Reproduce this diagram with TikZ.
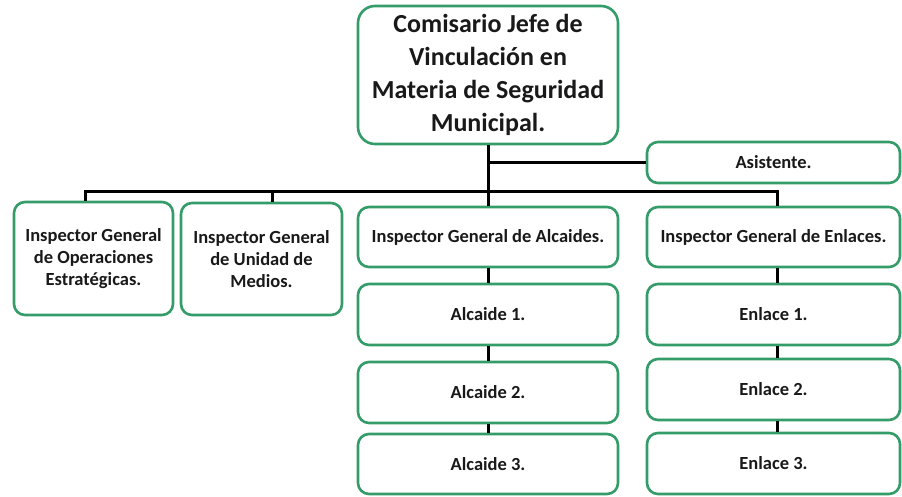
\documentclass[tikz,border=0pt]{standalone}
\usepackage{fontspec}
\setmainfont{Carlito}
\usepackage{tikz}
\usetikzlibrary{calc}
\definecolor{marco}{RGB}{52,156,104}
\tikzset{
  caja/.style={draw=marco, line width=2.6pt, rounded corners=11pt, fill=white,
    align=center, inner sep=2pt, text=black!90,
    font=\bfseries\fontsize{18.5}{22}\selectfont},
  cajajefe/.style={caja, rounded corners=17pt, font=\bfseries\fontsize{26}{33}\selectfont},
  linea/.style={draw=black, line width=3pt}
}

\begin{document}
\begin{tikzpicture}[x=1pt, y=-1pt]
		%%%%% START %%%%%
		\useasboundingbox (0,0) rectangle (902,496);
		
		\node[cajajefe, minimum width=260pt, minimum height=138pt] (jefe) at (488,75)
			{Comisario Jefe de\\Vinculación en\\Materia de Seguridad\\Municipal.};
		\node[caja, minimum width=253pt, minimum height=41pt] (asis) at (773.5,162.5) {Asistente.};
		
		\node[caja, minimum width=159pt, minimum height=113pt] (opest) at (93.5,258.5)
			{Inspector General\\de Operaciones\\Estratégicas.};
		\node[caja, minimum width=161pt, minimum height=112pt] (medios) at (261.5,259)
			{Inspector General\\de Unidad de\\Medios.};
		\node[caja, minimum width=260pt, minimum height=60pt] (alcs) at (488,237) {Inspector General de Alcaides.};
		\node[caja, minimum width=253pt, minimum height=60pt] (enls) at (773.5,237) {Inspector General de Enlaces.};
		
		\node[caja, minimum width=260pt, minimum height=61pt] (alc1) at (488,314.5) {Alcaide 1.};
		\node[caja, minimum width=260pt, minimum height=61pt] (alc2) at (488,392.5) {Alcaide 2.};
		\node[caja, minimum width=260pt, minimum height=60pt] (alc3) at (488,464) {Alcaide 3.};
		
		\node[caja, minimum width=253pt, minimum height=61pt] (enl1) at (773.5,314.5) {Enlace 1.};
		\node[caja, minimum width=253pt, minimum height=61pt] (enl2) at (773.5,389.5) {Enlace 2.};
		\node[caja, minimum width=253pt, minimum height=61pt] (enl3) at (773.5,463.5) {Enlace 3.};
		
		% barra horizontal
		\coordinate (busL) at (85,191);
		\coordinate (busM) at (272,191);
		\coordinate (busR) at (777,191);
		
		\draw[linea] (jefe.south) -- (alcs.north);
		\draw[linea] (jefe.south |- asis.west) -- (asis.west);
		\draw[linea] (busL |- opest.north) -- (busL) -- (busR) -- (busR |- enls.north);
		\draw[linea] (busM) -- (busM |- medios.north);
		
		\draw[linea] (alcs.south) -- (alc1.north);
		\draw[linea] (alc1.south) -- (alc2.north);
		\draw[linea] (alc2.south) -- (alc3.north);
		
		\draw[linea] (busR |- enls.south) -- (busR |- enl1.north);
		\draw[linea] (busR |- enl1.south) -- (busR |- enl2.north);
		\draw[linea] (busR |- enl2.south) -- (busR |- enl3.north);
		%%%%% END %%%%%
	\end{tikzpicture}
\end{document}
